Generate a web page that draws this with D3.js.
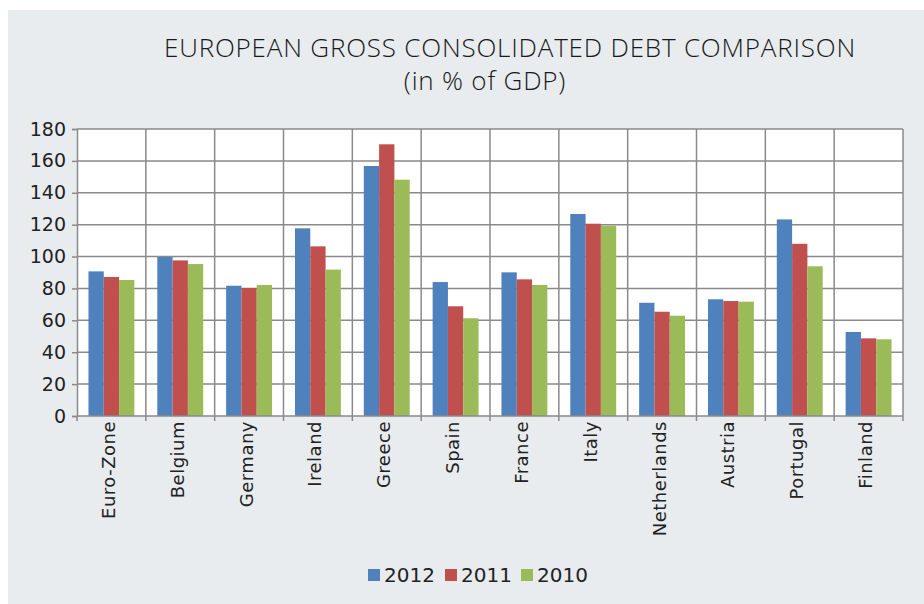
<!DOCTYPE html>
<html>
<head>
<meta charset="utf-8">
<script src="https://cdn.jsdelivr.net/npm/d3@7"></script>
<style>
  body { margin: 0; background: #fff; }
  svg { display: block; }
</style>
</head>
<body>
<div id="chart"></div>
<script>
const countries = ["Euro-Zone", "Belgium", "Germany", "Ireland", "Greece", "Spain",
                   "France", "Italy", "Netherlands", "Austria", "Portugal", "Finland"]
const years = ["2012", "2011", "2010"]
const debt2012 = [90.7, 99.7, 81.7, 117.7, 156.8, 84.0, 90.1, 126.7, 71.0, 73.2, 123.3, 52.7]
const debt2011 = [87.2, 97.6, 80.3, 106.4, 170.4, 68.8, 85.7, 120.6, 65.4, 72.1, 108.0, 48.7]
const debt2010 = [85.3, 95.3, 82.2, 91.8, 148.2, 61.3, 82.2, 119.3, 62.9, 71.7, 93.9, 48.1]
const yTicks = [0, 20, 40, 60, 80, 100, 120, 140, 160, 180]

const seriesByYear = {"2012": debt2012, "2011": debt2011, "2010": debt2010}
const colors = {"2012": "#4f81bd", "2011": "#c0504d", "2010": "#9bbb59"}

const width = 924
const height = 604
const margin = {top: 129, right: 21, bottom: 188, left: 77}
const gridColor = "#8a8a8a"

const svg = d3.select("#chart").append("svg")
    .attr("width", width)
    .attr("height", height)

// panel background
svg.append("rect")
    .attr("x", 8).attr("y", 10)
    .attr("width", width - 8).attr("height", height - 10)
    .attr("fill", "#e8ecef")

// title
const title = svg.append("text")
    .attr("text-anchor", "middle")
    .attr("font-family", "'Open Sans', sans-serif")
    .attr("font-weight", 300)
    .attr("font-size", "26px")
    .attr("letter-spacing", "0.8px")
    .attr("fill", "#1a1a1a")
title.append("tspan").attr("x", 510).attr("y", 57).text("EUROPEAN GROSS CONSOLIDATED DEBT COMPARISON")
title.append("tspan").attr("x", 485).attr("y", 90).text("(in % of GDP)")

const x = d3.scaleBand()
    .domain(countries)
    .range([margin.left, width - margin.right])

const xInner = d3.scaleBand()
    .domain(years)
    .range([0, x.bandwidth() * 2 / 3])

const y = d3.scaleLinear()
    .domain([0, 180])
    .range([height - margin.bottom, margin.top])

// plot area
svg.append("rect")
    .attr("x", margin.left).attr("y", margin.top)
    .attr("width", width - margin.left - margin.right)
    .attr("height", height - margin.top - margin.bottom)
    .attr("fill", "#fff")

// horizontal gridlines
svg.append("g")
    .selectAll("line")
    .data(yTicks.filter(d => d > 0))
    .join("line")
    .attr("x1", margin.left).attr("x2", width - margin.right)
    .attr("y1", d => y(d)).attr("y2", d => y(d))
    .attr("stroke", gridColor).attr("stroke-width", 1.5)

// vertical gridlines at category boundaries
const bounds = countries.map(c => x(c)).concat([width - margin.right])
svg.append("g")
    .selectAll("line")
    .data(bounds.slice(1))
    .join("line")
    .attr("x1", d => d).attr("x2", d => d)
    .attr("y1", margin.top).attr("y2", y(0))
    .attr("stroke", gridColor).attr("stroke-width", 1.5)

// bars
const groups = svg.append("g")
    .selectAll("g")
    .data(countries)
    .join("g")
    .attr("transform", d => `translate(${x(d) + x.bandwidth() / 6},0)`)

groups.selectAll("rect")
    .data((c, i) => years.map(yr => ({year: yr, value: seriesByYear[yr][i]})))
    .join("rect")
    .attr("x", d => xInner(d.year))
    .attr("y", d => y(d.value))
    .attr("width", xInner.bandwidth())
    .attr("height", d => y(0) - y(d.value))
    .attr("fill", d => colors[d.year])

// y axis
svg.append("g")
    .attr("transform", `translate(${margin.left},0)`)
    .call(d3.axisLeft(y).tickValues(yTicks).tickSize(5).tickPadding(6))
    .call(g => g.select(".domain").attr("stroke", gridColor).attr("stroke-width", 1.5))
    .call(g => g.selectAll(".tick line").attr("stroke", gridColor).attr("stroke-width", 1.5))
    .call(g => g.selectAll("text")
        .attr("font-family", "'DejaVu Sans', sans-serif")
        .attr("font-size", "19px")
        .attr("fill", "#222"))

// x axis: ticks on boundaries, labels rotated
const xAxis = svg.append("g")
    .attr("transform", `translate(0,${y(0)})`)
xAxis.append("line")
    .attr("x1", margin.left).attr("x2", width - margin.right)
    .attr("stroke", gridColor).attr("stroke-width", 1.5)
xAxis.selectAll(".btick")
    .data(bounds)
    .join("line")
    .attr("class", "btick")
    .attr("x1", d => d).attr("x2", d => d)
    .attr("y1", 0).attr("y2", 5)
    .attr("stroke", gridColor).attr("stroke-width", 1.5)
xAxis.selectAll(".label")
    .data(countries)
    .join("text")
    .attr("class", "label")
    .attr("transform", d => `translate(${x(d) + x.bandwidth() / 2 - 3},5) rotate(-90)`)
    .attr("text-anchor", "end")
    .attr("dominant-baseline", "central")
    .attr("font-family", "'DejaVu Sans', sans-serif")
    .attr("font-size", "18px")
    .attr("letter-spacing", "0.5px")
    .attr("fill", "#222")
    .text(d => d)

// legend
const legendItems = [
    {year: "2012", x: 368},
    {year: "2011", x: 445},
    {year: "2010", x: 521}
]
const legend = svg.append("g")
legend.selectAll("rect")
    .data(legendItems)
    .join("rect")
    .attr("x", d => d.x).attr("y", 569)
    .attr("width", 12).attr("height", 12)
    .attr("fill", d => colors[d.year])
legend.selectAll("text")
    .data(legendItems)
    .join("text")
    .attr("x", d => d.x + 16).attr("y", 582)
    .attr("font-family", "'DejaVu Sans', sans-serif")
    .attr("font-size", "20px")
    .attr("fill", "#222")
    .text(d => d.year)
</script>
</body>
</html>
